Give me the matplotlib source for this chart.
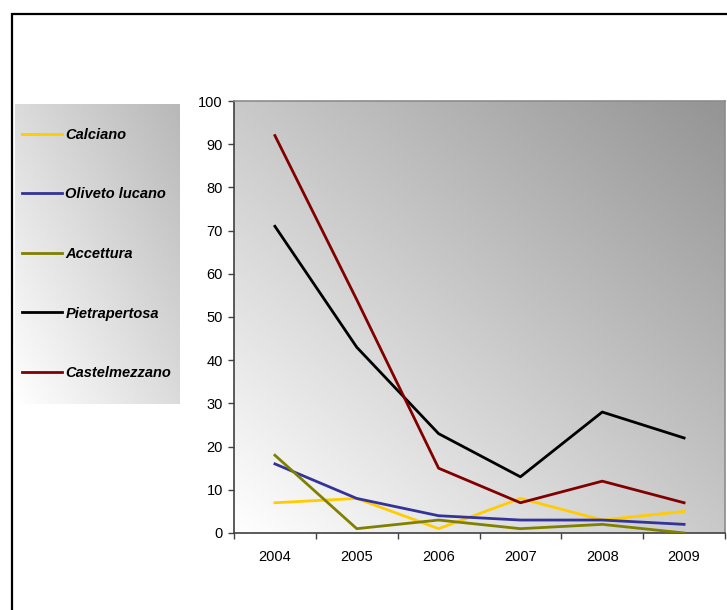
import numpy as np
import matplotlib.pyplot as plt
from matplotlib.colors import LinearSegmentedColormap
from matplotlib.lines import Line2D
from matplotlib.patches import Rectangle

plt.rcParams['font.family'] = ['Liberation Sans', 'DejaVu Sans']

years = ['2004', '2005', '2006', '2007', '2008', '2009']
calciano = [7, 8, 1, 8, 3, 5]
oliveto_lucano = [16, 8, 4, 3, 3, 2]
accettura = [18, 1, 3, 1, 2, 0]
pietrapertosa = [71, 43, 23, 13, 28, 22]
castelmezzano = [92, 54, 15, 7, 12, 7]

series = [
    ('Calciano', calciano, '#ffcc00'),
    ('Oliveto lucano', oliveto_lucano, '#333399'),
    ('Accettura', accettura, '#808000'),
    ('Pietrapertosa', pietrapertosa, '#000000'),
    ('Castelmezzano', castelmezzano, '#800000'),
]

W, H = 727, 610
fig = plt.figure(figsize=(W / 100, H / 100), dpi=100)


def diag_gradient(light, dark):
    # light at bottom-left, dark at top-right
    xx, yy = np.meshgrid(np.linspace(0, 1, 256), np.linspace(0, 1, 256))
    t = (xx + yy) / 2
    cmap = LinearSegmentedColormap.from_list('g', [light, dark])
    return t, cmap


# outer frame of the chart object
fig.patches.append(Rectangle((12 / W, -0.1), 1.2, 1.1 - 14 / H,
                             transform=fig.transFigure, fill=False,
                             edgecolor='black', linewidth=1.6, zorder=0))

# plot area
ax = fig.add_axes([234 / W, (H - 533) / H, 491 / W, 432 / H])
t, cmap = diag_gradient('#ffffff', '#949494')
ax.imshow(t, cmap=cmap, origin='lower', extent=[-0.5, 5.5, 0, 100],
          aspect='auto', zorder=0, vmin=0, vmax=1)

x = np.arange(len(years))
for name, vals, col in series:
    ax.plot(x, vals, color=col, linewidth=2, zorder=3)

ax.set_xlim(-0.5, 5.5)
ax.set_ylim(0, 100)
ax.set_yticks(range(0, 101, 10))
ax.set_xticks(np.arange(-0.5, 6, 1))
ax.set_xticklabels([])
ax.set_xticks(x, minor=True)
ax.set_xticklabels(years, minor=True)
ax.tick_params(axis='x', which='minor', length=0, pad=12, labelsize=10.5)
ax.tick_params(axis='x', which='major', length=4, width=1, color='#404040')
ax.tick_params(axis='y', length=4, width=1, color='#404040', pad=4,
               labelsize=10.5)
for side in ('top', 'right'):
    ax.spines[side].set_color('#8c8c8c')
    ax.spines[side].set_linewidth(1.2)
for side in ('left', 'bottom'):
    ax.spines[side].set_color('#404040')
    ax.spines[side].set_linewidth(1.2)

# legend box
lax = fig.add_axes([15 / W, (H - 404) / H, 165 / W, 300 / H])
t, cmap = diag_gradient('#ffffff', '#b8b8b8')
lax.imshow(t, cmap=cmap, origin='lower', extent=[0, 1, 0, 1],
           aspect='auto', vmin=0, vmax=1)
lax.set_xlim(0, 1)
lax.set_ylim(0, 1)
lax.axis('off')

handles = [Line2D([], [], color=col, linewidth=2) for _, _, col in series]
labels = [name for name, _, _ in series]
leg = lax.legend(handles, labels, loc='upper left',
                 bbox_to_anchor=(-0.035, 0.965), frameon=False,
                 handlelength=2.7, handletextpad=0.25, labelspacing=3.13,
                 prop={'size': 10.5, 'weight': 'bold', 'style': 'italic'})

fig.savefig('out.png', dpi=100)
